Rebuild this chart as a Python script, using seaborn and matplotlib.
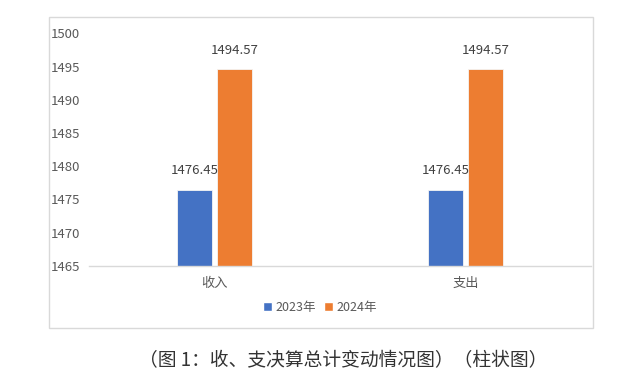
import matplotlib
matplotlib.use("Agg")
import matplotlib.pyplot as plt
import seaborn as sns
import pandas as pd
from matplotlib.patches import Rectangle, Patch

# 数据
categories = ["收入", "支出"]
years = ["2023年", "2024年"]
values_2023 = [1476.45, 1476.45]
values_2024 = [1494.57, 1494.57]
colors = ["#4472C4", "#ED7D31"]

sns.set_theme(style="white")
plt.rcParams['font.family'] = ['Noto Sans CJK SC', 'DejaVu Sans']

df = pd.DataFrame({
    "类别": categories * 2,
    "年份": [years[0]] * 2 + [years[1]] * 2,
    "金额": values_2023 + values_2024,
})

fig = plt.figure(figsize=(6.4, 3.78), dpi=100)
ax = fig.add_axes([89 / 640, 1 - 265.7 / 378, (591 - 89) / 640, (265.7 - 33.3) / 378])

sns.barplot(data=df, x="类别", y="金额", hue="年份", palette=colors, saturation=1,
            width=0.32, gap=0.125, ax=ax, legend=False,
            edgecolor="#f4f4f4", linewidth=0.6)

ax.set_ylim(1465, 1500)
ax.set_xlim(-0.5, 1.5)
ax.set_yticks(range(1465, 1501, 5))
ax.set_xlabel("")
ax.set_ylabel("")

for c in ax.containers:
    ax.bar_label(c, labels=[f"{v:.2f}" for v in c.datavalues], padding=9,
                 fontsize=9.5, color="#404040")

for s in ["top", "right", "left"]:
    ax.spines[s].set_visible(False)
ax.spines["bottom"].set_color("#d9d9d9")
ax.spines["bottom"].set_linewidth(1)

ax.tick_params(axis="y", length=0, labelsize=9.5, labelcolor="#595959", pad=6.5)
ax.tick_params(axis="x", which="major", length=0, labelsize=9.5, labelcolor="#595959", pad=8)
ax.set_xticks([-0.5, 0.5, 1.5], minor=True)
ax.tick_params(axis="x", which="minor", length=5, color="#d9d9d9", width=1, direction="out")

# 图表外框
fig.patches.append(Rectangle((49 / 640, 1 - 328 / 378), (593 - 49) / 640, (328 - 17) / 378,
                             transform=fig.transFigure, fill=False,
                             edgecolor="#d9d9d9", linewidth=1))

handles = [Patch(facecolor=colors[i], label=years[i]) for i in range(2)]
fig.legend(handles=handles, loc="center", bbox_to_anchor=(320 / 640, 1 - 307 / 378),
           ncol=2, frameon=False, fontsize=9, handlelength=0.7, handleheight=0.7,
           handletextpad=0.3, columnspacing=0.6, labelcolor="#595959")

fig.text(343 / 640, 1 - 361 / 378, "（图 1：收、支决算总计变动情况图）（柱状图）",
         ha="center", va="center", fontsize=13.5, color="#333333")

fig.savefig("out.png", dpi=100)
